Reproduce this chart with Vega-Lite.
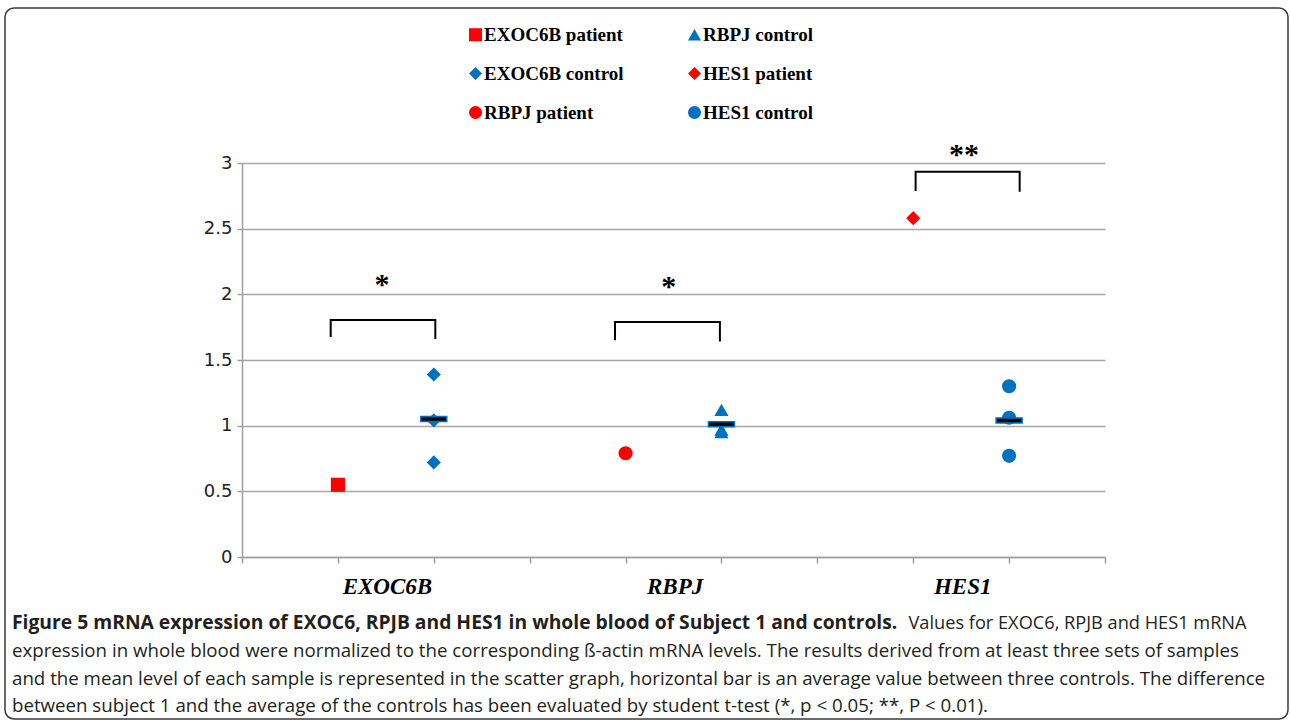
{
  "$schema": "https://vega.github.io/schema/vega-lite/v6.json",
  "width": 1283,
  "height": 711,
  "autosize": {"type": "none"},
  "padding": {"left": 5, "top": 8, "right": 2, "bottom": 4},
  "background": "white",
  "view": {"stroke": "#3a3a3a", "strokeWidth": 1.5, "cornerRadius": 9},
  "title": {
    "text": "Figure 5 mRNA expression of EXOC6, RPJB and HES1 in whole blood of Subject 1 and controls.",
    "subtitle": [
      "expression in whole blood were normalized to the corresponding ß-actin mRNA levels. The results derived from at least three sets of samples",
      "and the mean level of each sample is represented in the scatter graph, horizontal bar is an average value between three controls. The difference",
      "between subject 1 and the average of the controls has been evaluated by student t-test (*, p < 0.05; **, P < 0.01)."
    ],
    "orient": "bottom",
    "anchor": "start",
    "frame": "group",
    "dx": 7,
    "offset": -105,
    "font": "Open Sans",
    "fontSize": 19.3,
    "fontWeight": "bold",
    "color": "#231f20",
    "subtitleFont": "Open Sans",
    "subtitleFontSize": 18.7,
    "subtitleFontWeight": "normal",
    "subtitleColor": "#231f20",
    "subtitleLineHeight": 27.5,
    "subtitlePadding": 9
  },
  "datasets": {
    "points": [
      {"pos": 1, "value": 0.55, "series": "EXOC6B patient"},
      {"pos": 2, "value": 1.39, "series": "EXOC6B control"},
      {"pos": 2, "value": 1.04, "series": "EXOC6B control"},
      {"pos": 2, "value": 0.72, "series": "EXOC6B control"},
      {"pos": 4, "value": 0.79, "series": "RBPJ patient"},
      {"pos": 5, "value": 1.12, "series": "RBPJ control"},
      {"pos": 5, "value": 0.97, "series": "RBPJ control"},
      {"pos": 5, "value": 0.95, "series": "RBPJ control"},
      {"pos": 7, "value": 2.58, "series": "HES1 patient"},
      {"pos": 8, "value": 1.3, "series": "HES1 control"},
      {"pos": 8, "value": 1.06, "series": "HES1 control"},
      {"pos": 8, "value": 0.77, "series": "HES1 control"}
    ],
    "means": [
      {"pos": 2, "value": 1.05},
      {"pos": 5, "value": 1.01},
      {"pos": 8, "value": 1.04}
    ],
    "brackets": [
      {"b": "EXOC6B", "i": 0, "pos": 0.925, "value": 1.675},
      {"b": "EXOC6B", "i": 1, "pos": 0.925, "value": 1.805},
      {"b": "EXOC6B", "i": 2, "pos": 2.016, "value": 1.805},
      {"b": "EXOC6B", "i": 3, "pos": 2.016, "value": 1.66},
      {"b": "RBPJ", "i": 0, "pos": 3.89, "value": 1.65},
      {"b": "RBPJ", "i": 1, "pos": 3.89, "value": 1.79},
      {"b": "RBPJ", "i": 2, "pos": 4.984, "value": 1.79},
      {"b": "RBPJ", "i": 3, "pos": 4.984, "value": 1.64},
      {"b": "HES1", "i": 0, "pos": 7.025, "value": 2.787},
      {"b": "HES1", "i": 1, "pos": 7.025, "value": 2.934},
      {"b": "HES1", "i": 2, "pos": 8.11, "value": 2.934},
      {"b": "HES1", "i": 3, "pos": 8.11, "value": 2.782}
    ],
    "stars": [
      {"pos": 1.46, "value": 2.096, "label": "*"},
      {"pos": 4.45, "value": 2.079, "label": "*"},
      {"pos": 7.53, "value": 3.086, "label": "**"}
    ]
  },
  "encoding": {
    "x": {
      "field": "pos",
      "type": "quantitative",
      "scale": {"domain": [0, 9], "range": [237, 1100], "nice": false, "zero": false},
      "axis": {
        "values": [0, 1, 2, 3, 4, 5, 6, 7, 8, 9],
        "offset": -162,
        "grid": false,
        "domainColor": "#9e9e9e",
        "domainWidth": 1.5,
        "tickColor": "#9e9e9e",
        "tickWidth": 1.5,
        "tickSize": 6,
        "labelExpr": "datum.value == 1 ? 'EXOC6B' : datum.value == 4 ? 'RBPJ' : datum.value == 7 ? 'HES1' : ''",
        "labelOffset": 49,
        "labelOverlap": false,
        "labelFlush": false,
        "labelBound": false,
        "labelFont": "Liberation Serif",
        "labelFontSize": 23,
        "labelFontWeight": "bold",
        "labelFontStyle": "italic",
        "labelColor": "black",
        "labelBaseline": "top",
        "labelPadding": 12,
        "title": "Values for EXOC6, RPJB and HES1 mRNA",
        "titleX": 903,
        "titleY": 71,
        "titleAlign": "left",
        "titleAnchor": "start",
        "titleBaseline": "alphabetic",
        "titleFont": "Open Sans",
        "titleFontSize": 18.2,
        "titleFontWeight": "normal",
        "titleColor": "#231f20"
      }
    },
    "y": {
      "field": "value",
      "type": "quantitative",
      "scale": {"domain": [0, 3], "range": [549, 155], "nice": false, "zero": false},
      "axis": {
        "values": [0, 0.5, 1, 1.5, 2, 2.5, 3],
        "format": "~g",
        "offset": -237,
        "grid": true,
        "gridColor": "#a6a6a6",
        "gridWidth": 1.5,
        "domainColor": "#9e9e9e",
        "domainWidth": 1.5,
        "tickColor": "#9e9e9e",
        "tickWidth": 1.5,
        "tickSize": 5,
        "labelPadding": 5,
        "labelFont": "DejaVu Sans",
        "labelFontSize": 18,
        "labelColor": "#222222",
        "title": null
      }
    }
  },
  "layer": [
    {
      "data": {"name": "brackets"},
      "mark": {"type": "line", "color": "black", "strokeWidth": 2, "strokeCap": "butt"},
      "encoding": {
        "detail": {"field": "b"},
        "order": {"field": "i"}
      }
    },
    {
      "data": {"name": "stars"},
      "mark": {"type": "text", "font": "Liberation Serif", "fontSize": 30, "fontWeight": "bold", "baseline": "middle", "align": "center", "dy": 3, "color": "black"},
      "encoding": {
        "text": {"field": "label"}
      }
    },
    {
      "data": {"name": "points"},
      "mark": {"type": "point", "filled": true, "opacity": 1, "size": 200, "strokeWidth": 0},
      "encoding": {
        "color": {
          "field": "series",
          "type": "nominal",
          "scale": {
            "domain": ["EXOC6B patient", "EXOC6B control", "RBPJ patient", "RBPJ control", "HES1 patient", "HES1 control"],
            "range": ["#ff0000", "#0070c0", "#ff0000", "#0070c0", "#ff0000", "#0070c0"]
          },
          "legend": {
            "orient": "none",
            "legendX": 461,
            "legendY": 17,
            "direction": "vertical",
            "columns": 2,
            "title": null,
            "padding": 0,
            "rowPadding": 19,
            "columnPadding": 61,
            "symbolSize": 170,
            "symbolStrokeWidth": 0,
            "labelOffset": -1,
            "labelFont": "Liberation Serif",
            "labelFontSize": 19,
            "labelFontWeight": "bold",
            "labelColor": "black",
            "labelLimit": 300
          }
        },
        "shape": {
          "field": "series",
          "type": "nominal",
          "scale": {
            "domain": ["EXOC6B patient", "EXOC6B control", "RBPJ patient", "RBPJ control", "HES1 patient", "HES1 control"],
            "range": ["square", "diamond", "circle", "triangle-up", "diamond", "circle"]
          }
        }
      }
    },
    {
      "data": {"name": "means"},
      "mark": {"type": "tick", "orient": "horizontal", "size": 26, "thickness": 5, "fill": "black", "stroke": "#0070c0", "strokeWidth": 1.5, "opacity": 1}
    }
  ]
}
